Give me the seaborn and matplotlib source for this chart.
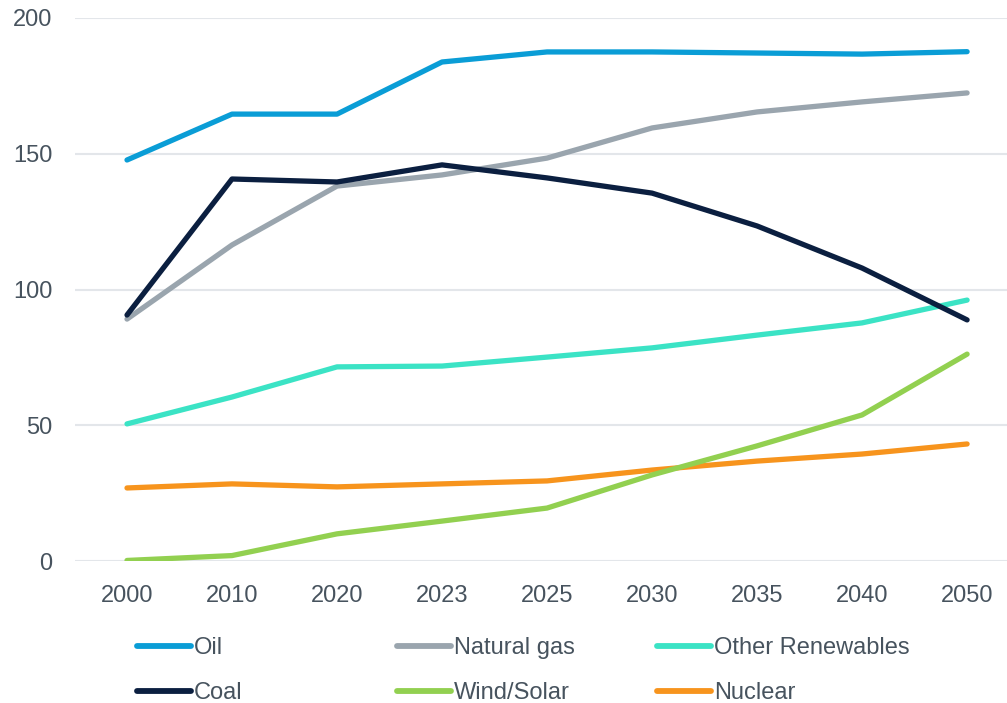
import matplotlib
matplotlib.use("Agg")
import matplotlib.pyplot as plt
from matplotlib.lines import Line2D
import seaborn as sns
import pandas as pd

years = ["2000", "2010", "2020", "2023", "2025", "2030", "2035", "2040", "2050"]

oil = [147.7, 164.6, 164.6, 183.8, 187.5, 187.5, 187.1, 186.7, 187.6]
natural_gas = [89.1, 116.4, 138.1, 142.2, 148.4, 159.5, 165.4, 169.1, 172.4]
coal = [90.6, 140.7, 139.6, 145.9, 141.1, 135.5, 123.4, 107.9, 88.8]
other_renewables = [50.5, 60.4, 71.5, 71.8, 75.1, 78.5, 83.2, 87.7, 96.1]
wind_solar = [0.2, 2.0, 10.0, 14.7, 19.5, 31.7, 42.4, 53.8, 76.2]
nuclear = [26.9, 28.4, 27.3, 28.4, 29.5, 33.5, 36.8, 39.4, 43.1]

series = {
    "Oil": oil,
    "Natural gas": natural_gas,
    "Other Renewables": other_renewables,
    "Coal": coal,
    "Wind/Solar": wind_solar,
    "Nuclear": nuclear,
}
colors = {
    "Oil": "#0A9DD6",
    "Natural gas": "#9AA5AE",
    "Other Renewables": "#3BE3C5",
    "Coal": "#0B1F40",
    "Wind/Solar": "#92D050",
    "Nuclear": "#F7941D",
}

rows = []
for name, vals in series.items():
    for i, (yr, v) in enumerate(zip(years, vals)):
        rows.append({"pos": i, "year": yr, "source": name, "value": v})
df = pd.DataFrame(rows)

sns.set_theme(style="white")
plt.rcParams["font.family"] = ["Liberation Sans", "DejaVu Sans"]
plt.rcParams["lines.solid_capstyle"] = "round"
plt.rcParams["lines.solid_joinstyle"] = "round"

text_color = "#47535E"
fig = plt.figure(figsize=(10.07, 7.03), dpi=100)
ax = fig.add_axes([74.5 / 1007, (703 - 561) / 703, (1007 - 74.5) / 1007, 543 / 703])

draw_order = ["Nuclear", "Wind/Solar", "Other Renewables", "Natural gas", "Coal", "Oil"]
sns.lineplot(data=df, x="pos", y="value", hue="source", hue_order=draw_order,
             palette=colors, linewidth=3.8, ax=ax, legend=False, sort=False)

ax.set_xlim(-0.5, 8.38)
ax.set_ylim(0, 200)
ax.set_yticks([0, 50, 100, 150, 200])
ax.set_xticks(range(len(years)))
ax.set_xticklabels(years)
ax.yaxis.grid(True, color="#E3E6EA", linewidth=1.5)
ax.xaxis.grid(False)
ax.set_axisbelow(True)
for s in ax.spines.values():
    s.set_visible(False)
ax.tick_params(axis="both", length=0, labelsize=17, colors=text_color)
ax.tick_params(axis="x", pad=17)
ax.tick_params(axis="y", pad=16)
ax.set_xlabel("")
ax.set_ylabel("")

# Legend laid out as three fixed-width columns of two entries each
columns = [["Oil", "Coal"], ["Natural gas", "Wind/Solar"], ["Other Renewables", "Nuclear"]]
col_x = [137, 397, 657]
for names, x0 in zip(columns, col_x):
    handles = [Line2D([], [], color=colors[n], linewidth=4.2, solid_capstyle="round") for n in names]
    leg = fig.legend(handles, names, loc="upper left",
                     bbox_to_anchor=(x0 / 1007, 1 - 637 / 703),
                     frameon=False, fontsize=17, handlelength=2.3, handletextpad=0.12,
                     labelspacing=0.98, borderaxespad=0, borderpad=0)
    for t in leg.get_texts():
        t.set_color(text_color)

fig.savefig("out.png", dpi=100, facecolor="white")
